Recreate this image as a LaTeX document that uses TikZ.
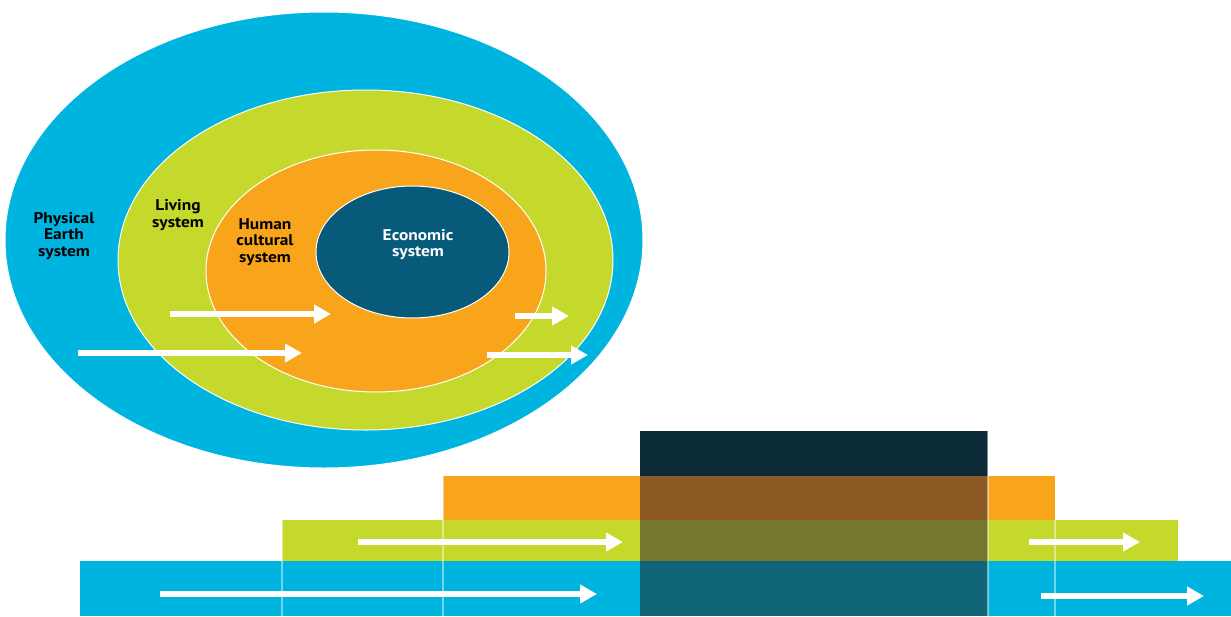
\documentclass[tikz,border=0pt]{standalone}
\usepackage{fontspec}
\setmainfont{PT Sans}[FakeStretch=1.12]
\usetikzlibrary{arrows.meta}
\definecolor{cblue}{RGB}{0,180,224}
\definecolor{cgreen}{RGB}{197,217,45}
\definecolor{corange}{RGB}{249,165,28}
\definecolor{cdark}{RGB}{7,90,122}
\definecolor{dtop}{RGB}{10,42,54}
\definecolor{dor}{RGB}{140,90,36}
\definecolor{dgr}{RGB}{118,119,47}
\definecolor{dbl}{RGB}{16,101,119}
\tikzset{
  ring/.style={draw=white, line width=1pt},
  lbl/.style={align=center, font=\bfseries\fontsize{15.5}{16.5}\selectfont, text=black, inner sep=0pt},
  flow/.style={draw=white, line width=6pt, -{Triangle[length=17pt,width=18pt]}},
  seam/.style={draw=white, draw opacity=0.45, line width=2pt}
}
\begin{document}
\begin{tikzpicture}[x=1pt,y=-1pt]
\useasboundingbox (0,0) rectangle (1231,616);
% nested systems
\path[ring, fill=cblue] (324,240) ellipse [x radius=319, y radius=228];
\path[ring, fill=cgreen] (365.5,260) ellipse [x radius=247.5, y radius=170];
\path[ring, fill=corange] (376,271) ellipse [x radius=170, y radius=121];
\path[ring, fill=cdark] (412.5,252) ellipse [x radius=96.5, y radius=66];
\node[lbl] (phys) at (64,236) {Physical\\Earth\\system};
\node[lbl] (liv) at (178,215) {Living\\system};
\node[lbl] (hum) at (265,242) {Human\\cultural\\system};
\node[lbl, text=white] (eco) at (418,244.5) {Economic\\system};
% arrows in the ellipses
\coordinate (a1s) at (170,314); \coordinate (a1e) at (331,314);
\coordinate (a2s) at (78,353);  \coordinate (a2e) at (302,353);
\coordinate (a3s) at (515,316); \coordinate (a3e) at (569,316);
\coordinate (a4s) at (487,355); \coordinate (a4e) at (588,355);
\draw[flow] (a1s) -- (a1e);
\draw[flow] (a2s) -- (a2e);
\draw[flow] (a3s) -- (a3e);
\draw[flow] (a4s) -- (a4e);
% bars
\fill[cblue] (80,561) rectangle (1231,616);
\fill[cgreen] (282,520) rectangle (1178,561);
\fill[corange] (443,476) rectangle (1055,520);
\fill[dtop] (640,431) rectangle (988,476);
\fill[dor] (640,476) rectangle (988,520);
\fill[dgr] (640,520) rectangle (988,561);
\fill[dbl] (640,561) rectangle (988,616);
% seams
\draw[seam] (282,520) -- (282,616);
\draw[seam] (443,476) -- (443,616);
\draw[seam] (988,431) -- (988,616);
\draw[seam] (1055,520) -- (1055,616);
% arrows in the bars
\coordinate (b1s) at (358,542); \coordinate (b1e) at (623,542);
\coordinate (b2s) at (160,594); \coordinate (b2e) at (597,594);
\coordinate (b3s) at (1029,542); \coordinate (b3e) at (1140,542);
\coordinate (b4s) at (1041,596); \coordinate (b4e) at (1204,596);
\draw[flow] (b1s) -- (b1e);
\draw[flow] (b2s) -- (b2e);
\draw[flow] (b3s) -- (b3e);
\draw[flow] (b4s) -- (b4e);
\end{tikzpicture}
\end{document}
